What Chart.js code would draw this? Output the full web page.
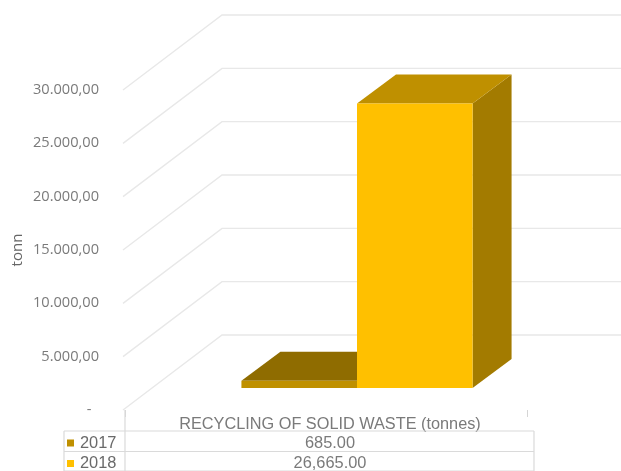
<!DOCTYPE html>
<html><head><meta charset="utf-8">
<style>html,body{margin:0;padding:0;background:#fff;overflow:hidden}#wrap{position:relative;width:621px;height:471px}</style>
<script src="https://cdn.jsdelivr.net/npm/chart.js@4"></script>
</head><body><div id="wrap"><canvas id="c" width="621" height="471"></canvas></div>
<script>
const categories = ['RECYCLING OF SOLID WASTE (tonnes)'];
const seriesNames = ['2017', '2018'];
const values2017 = [685];
const values2018 = [26665];
const yTicks = [0, 5000, 10000, 15000, 20000, 25000, 30000];

const frontColors = ['#BF9000', '#FFC000'];
const topColors = ['#8F6C00', '#BF9000'];
const sideColors = ['#8F6C00', '#A37B00'];
const gridColor = '#E8E8E8';
const TEXT = '#7a7a7a';

// 3D projection of the plot box
const WALL = {dx: 99, dy: -75};   // full depth of the gridded walls
const BAR_IN = {dx: 31, dy: -22}; // how far bars sit in from the front
const BAR_D = {dx: 39, dy: -29};  // depth of each bar

function poly(ctx, pts, fill) {
  ctx.beginPath();
  pts.forEach((p, i) => i ? ctx.lineTo(p[0], p[1]) : ctx.moveTo(p[0], p[1]));
  ctx.closePath();
  ctx.fillStyle = fill;
  ctx.fill();
}
const fmt = v => v.toLocaleString('en-US', {minimumFractionDigits: 2, maximumFractionDigits: 2});

const plugin3d = {
  id: 'plugin3d',
  beforeDatasetsDraw(chart) {
    const ctx = chart.ctx, y = chart.scales.y, a = chart.chartArea;
    ctx.save();
    ctx.strokeStyle = gridColor;
    ctx.lineWidth = 1.4;
    yTicks.forEach(v => {
      const py = y.getPixelForValue(v);
      ctx.beginPath();
      ctx.moveTo(a.left - 2, py);
      ctx.lineTo(a.left - 2 + WALL.dx, py + WALL.dy);
      ctx.lineTo(chart.width, py + WALL.dy);
      ctx.stroke();
    });
    ctx.restore();
    ctx.save();
    ctx.translate(BAR_IN.dx, BAR_IN.dy);
    [0, 1].forEach(i => {
      const el = chart.getDatasetMeta(i).data[0];
      const {x, y: top, base, width} = el.getProps(['x', 'y', 'base', 'width'], false);
      const l = x - width / 2, r = x + width / 2, d = BAR_D;
      poly(ctx, [[r, top], [r + d.dx, top + d.dy], [r + d.dx, base + d.dy], [r, base]], sideColors[i]);
      poly(ctx, [[l, top], [l + d.dx, top + d.dy], [r + d.dx, top + d.dy], [r, top]], topColors[i]);
    });
  },
  afterDatasetsDraw(chart) {
    const ctx = chart.ctx;
    ctx.restore();
    // data table
    const a = chart.chartArea;
    const L = 64, D = a.left, R = 534, T = 431, rowH = 20.5;
    ctx.save();
    ctx.strokeStyle = '#DADADA';
    ctx.lineWidth = 1.2;
    ctx.beginPath();
    ctx.moveTo(L, T); ctx.lineTo(R, T);
    ctx.moveTo(L, T + rowH); ctx.lineTo(R, T + rowH);
    ctx.moveTo(L, T + 2 * rowH - 1); ctx.lineTo(R, T + 2 * rowH - 1);
    ctx.moveTo(L, T); ctx.lineTo(L, 471);
    ctx.moveTo(R, T); ctx.lineTo(R, 471);
    ctx.moveTo(D, a.bottom); ctx.lineTo(D, 471);
    ctx.stroke();
    ctx.font = '16.4px "Liberation Sans"';
    ctx.textBaseline = 'middle';
    const rows = [values2017[0], values2018[0]];
    seriesNames.forEach((n, i) => {
      const cy = T + rowH * i + 12;
      ctx.fillStyle = frontColors[i];
      ctx.fillRect(67, cy - 3.5, 7, 7);
      ctx.fillStyle = '#6a6a6a';
      ctx.textAlign = 'left';
      ctx.fillText(n, 80, cy);
      ctx.fillStyle = TEXT;
      ctx.textAlign = 'center';
      ctx.fillText(fmt(rows[i]), (D + R) / 2 + 0.5, cy);
    });
    ctx.restore();
  }
};

new Chart(document.getElementById('c'), {
  type: 'bar',
  data: {
    labels: categories,
    datasets: [
      {label: seriesNames[0], data: values2017, backgroundColor: frontColors[0], clip: false},
      {label: seriesNames[1], data: values2018, backgroundColor: frontColors[1], clip: false}
    ]
  },
  plugins: [plugin3d],
  options: {
    responsive: false,
    animation: false,
    layout: {padding: {top: 90, right: 94, bottom: 0, left: 0}},
    plugins: {legend: {display: false}, title: {display: false}, tooltip: {enabled: false}},
    datasets: {bar: {categoryPercentage: 0.575, barPercentage: 1}},
    scales: {
      x: {
        offset: true,
        border: {display: false},
        grid: {drawOnChartArea: false, color: '#D5D5D5', tickLength: 7, offset: true},
        ticks: {color: TEXT, padding: -2, labelOffset: 4, maxRotation: 0, font: {family: '"Liberation Sans"', size: 16.3}},
        afterFit(s) { s.height = 61; }
      },
      y: {
        min: 0, max: 30000,
        border: {display: false},
        grid: {display: false, drawTicks: false},
        title: {display: true, text: 'tonn', color: '#666', padding: {top: 9, bottom: 0}, font: {family: '"Open Sans"', size: 15}},
        ticks: {
          stepSize: 5000, padding: 26, color: TEXT,
          font: {family: '"Open Sans"', size: 14.6},
          callback: v => v === 0 ? '-  ' : new Intl.NumberFormat('de-DE', {minimumFractionDigits: 2}).format(v)
        },
        afterFit(s) { s.width = 125; }
      }
    }
  }
});
</script></body></html>
